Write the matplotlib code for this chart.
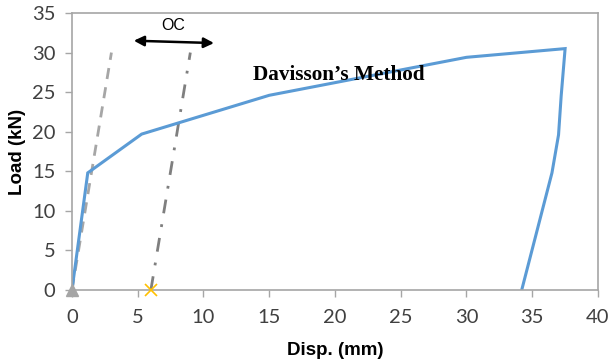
import matplotlib
matplotlib.use('Agg')
import matplotlib.pyplot as plt

# load-displacement curve (loading + unloading)
disp = [0, 1.2, 5.3, 15.0, 30.0, 37.5, 37.2, 37.0, 36.5, 34.2]
load = [0, 14.8, 19.7, 24.6, 29.4, 30.5, 24.5, 19.6, 14.8, 0]

# elastic line and offset line for Davisson's criterion
elastic_x = [0, 3.0]
elastic_y = [0, 30.0]
offset_x = [6.0, 9.0]
offset_y = [0, 30.0]

xticks = [0, 5, 10, 15, 20, 25, 30, 35, 40]
yticks = [0, 5, 10, 15, 20, 25, 30, 35]

plt.rcParams['font.family'] = ['Lato', 'DejaVu Sans']

fig = plt.figure(figsize=(6.11, 3.64), dpi=100)
ax = fig.add_axes([0.1178, 0.2033, 0.8609, 0.761])

ax.plot(elastic_x, elastic_y, color='#a6a6a6', lw=2, dashes=(4, 3))
ax.plot(offset_x, offset_y, color='#7f7f7f', lw=2, dashes=(5, 4, 1, 4))
ax.plot(disp, load, color='#5b9bd5', lw=2.2, solid_joinstyle='miter')
ax.plot([0], [0], marker='^', color='#a5a5a5', ms=8, clip_on=False, zorder=5)
ax.plot([6], [0], marker='x', color='#ffc000', ms=9, mew=1.2, clip_on=False, zorder=5)

# offset arrow
ax.annotate('', xy=(4.7, 31.5), xytext=(10.8, 31.2),
            arrowprops=dict(arrowstyle='<|-|>', color='black', lw=1.8,
                            mutation_scale=15, shrinkA=0, shrinkB=0))
ax.text(7.7, 33.4, 'OC', ha='center', va='center', fontsize=11.5,
        family=['Liberation Sans', 'DejaVu Sans'])
ax.text(20.3, 27.2, 'Davisson\u2019s Method', ha='center', va='center',
        fontsize=15.3, fontweight='bold', family=['Liberation Serif', 'DejaVu Serif'],
        zorder=6)

ax.set_xlim(0, 40)
ax.set_ylim(0, 35)
ax.set_xticks(xticks)
ax.set_yticks(yticks)
ax.tick_params(labelsize=14.5, color='#a6a6a6', length=5, width=1, labelcolor='#404040')
ax.tick_params(axis='x', pad=9)
ax.tick_params(axis='y', pad=7)
for s in ax.spines.values():
    s.set_color('#a6a6a6')
    s.set_linewidth(1.2)

ax.set_xlabel('Disp. (mm)', fontsize=13.5, fontweight='bold', labelpad=11,
              family=['Liberation Sans', 'DejaVu Sans'])
ax.set_ylabel('Load (kN)', fontsize=13.5, fontweight='bold', labelpad=4,
              family=['Liberation Sans', 'DejaVu Sans'])

fig.savefig('out.png', dpi=100)
